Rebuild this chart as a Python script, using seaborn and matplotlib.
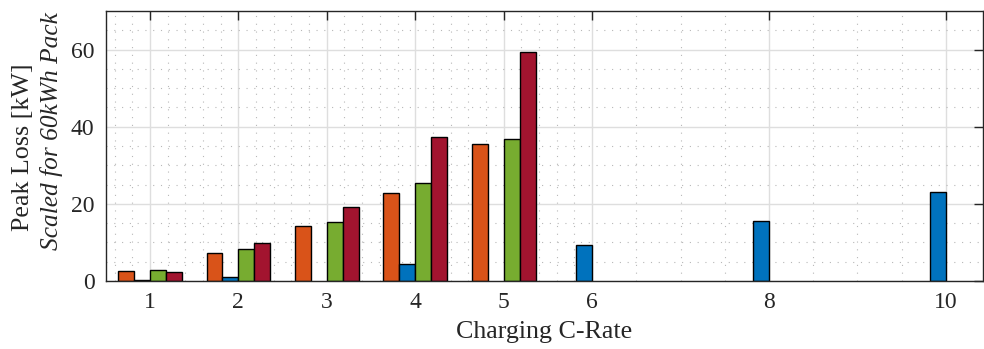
import numpy as np
import pandas as pd
import seaborn as sns
import matplotlib.pyplot as plt

# Chart data
rates = [1, 2, 3, 4, 5, 6, 8, 10]
series = ["Series 1", "Series 2", "Series 3", "Series 4"]
colors = ["#D95319", "#0072BD", "#77AC30", "#A2142F"]
loss_s1 = [2.5, 7.3, 14.2, 22.8, 35.6, np.nan, np.nan, np.nan]
loss_s2 = [0.3, 1.1, np.nan, 4.3, np.nan, 9.3, 15.5, 23.0]
loss_s3 = [2.8, 8.4, 15.4, 25.5, 36.9, np.nan, np.nan, np.nan]
loss_s4 = [2.4, 9.8, 19.1, 37.4, 59.4, np.nan, np.nan, np.nan]
x_ticks = [1, 2, 3, 4, 5, 6, 8, 10]
y_ticks = [0, 20, 40, 60]

# long-form table for seaborn
df = pd.DataFrame({
    "rate": rates * 4,
    "loss": loss_s1 + loss_s2 + loss_s3 + loss_s4,
    "series": [s for s in series for _ in rates],
}).dropna()

sns.set_theme(style="white")
plt.rcParams["font.family"] = ["Liberation Serif", "DejaVu Serif"]

fig = plt.figure(figsize=(9.84, 3.49), dpi=100)
ax = fig.add_axes([0.1074, 0.1948, 0.8916, 0.7736])

sns.barplot(data=df, x="rate", y="loss", hue="series", hue_order=series,
            palette=colors, native_scale=True, width=0.72, gap=0,
            saturation=1, edgecolor="black", linewidth=1.0,
            errorbar=None, legend=False, ax=ax)

ax.set_xlim(0.5, 10.42)
ax.set_ylim(0, 70)
ax.set_xticks(x_ticks)
ax.set_xticklabels([str(t) for t in x_ticks])
ax.set_yticks(y_ticks)
minor_x = list(np.round(np.arange(0.6, 6.0, 0.2), 1)) + [6.5, 7, 7.5, 8.5, 9, 9.5]
minor_x = [m for m in minor_x if m not in x_ticks]
ax.set_xticks(minor_x, minor=True)
ax.set_yticks([v for v in range(5, 70, 5) if v % 20 != 0], minor=True)

ax.set_axisbelow(True)
ax.grid(which="major", color="#dedede", linewidth=1.0, linestyle="-")
ax.grid(which="minor", color="#b8b8b8", linewidth=0.8, linestyle=(0, (1, 6)))

for sp in ax.spines.values():
    sp.set_visible(True)
    sp.set_color("#262626")
    sp.set_linewidth(1.0)

ax.tick_params(which="major", direction="in", top=True, right=True,
               length=6.5, width=1.0, color="#262626",
               labelsize=17, labelcolor="#262626", pad=8)
ax.tick_params(which="minor", length=0)

ax.set_xlabel("Charging C-Rate", fontsize=18.7, color="#262626", labelpad=6)
ax.set_ylabel("")
fig.text(0.0234, 0.579, "Peak Loss [kW]", rotation=90, ha="center",
         va="center", fontsize=18.7, color="#262626")
fig.text(0.0528, 0.6246, "Scaled for 60kWh Pack", rotation=90, ha="center",
         va="center", fontsize=18.3, color="#262626", style="italic")

fig.savefig("out.png", dpi=100)
